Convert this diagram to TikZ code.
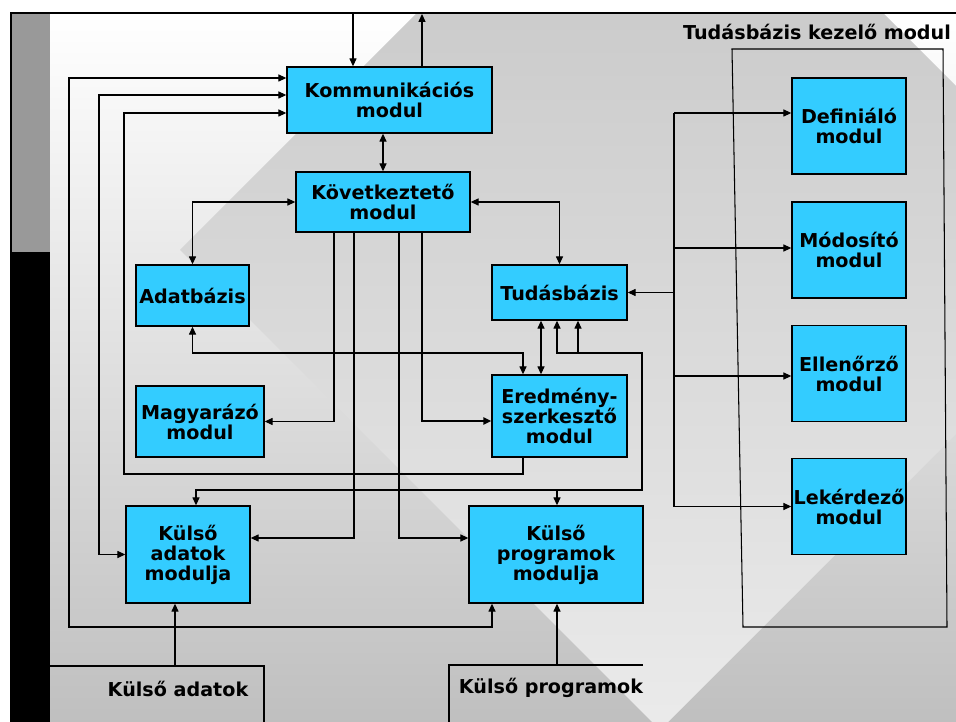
\documentclass[tikz,border=0pt]{standalone}
\usepackage{fontspec}
\setmainfont{DejaVu Sans}
\usetikzlibrary{arrows.meta}
\definecolor{kek}{RGB}{51,204,255}

\begin{document}
\begin{tikzpicture}[x=0.02cm, y=-0.02cm, >={Triangle[length=4.5pt,width=4pt]}]
	\tikzstyle{modul} = [draw, rectangle, fill=kek, line width=0.8pt, inner sep=0.5pt, align=center, font={\fontsize{10.9}{11.4}\selectfont\bfseries}];
	\tikzstyle{felirat} = [font={\fontsize{10.9}{11.4}\selectfont\bfseries}];
	\tikzstyle{vonal} = [line width=0.6pt];
	\tikzstyle{nyil} = [->, line width=0.6pt];
	\tikzstyle{kettos} = [<->, line width=0.6pt];

	\useasboundingbox (0,0) rectangle (956,722);
	\shade[top color=white, bottom color=black!25] (50,14) rectangle (956,722);
	\begin{scope}
		\clip (50,14) rectangle (956,722);
		\shade[top color=black!24, bottom color=black!8] (180,250) -- (650,-220) -- (1130,260) -- (660,730) -- cycle;
	\end{scope}
	\fill[black] (10,12) rectangle (956,14);
	\fill[black] (10,12) rectangle (12,252);
	\fill[black!40] (12,14) rectangle (50,252);
	\fill[black] (10,252) rectangle (50,722);

	\node[modul, minimum width=4.1cm, minimum height=1.32cm] (komm) at (389.5,100) {Kommunikációs\\modul};
	\node[modul, minimum width=3.48cm, minimum height=1.2cm] (kov) at (383,202) {Következtető\\modul};
	\node[modul, minimum width=2.26cm, minimum height=1.22cm] (adat) at (192.5,295.5) {Adatbázis};
	\node[modul, minimum width=2.56cm, minimum height=1.42cm] (magy) at (200,421.5) {Magyarázó\\modul};
	\node[modul, minimum width=2.7cm, minimum height=1.1cm] (tudas) at (559.5,292.5) {Tudásbázis};
	\node[modul, minimum width=2.7cm, minimum height=1.64cm] (ered) at (559.5,416) {Eredmény-\\szerkesztő\\modul};
	\node[modul, minimum width=2.48cm, minimum height=1.94cm] (kadat) at (188,554.5) {Külső\\adatok\\modulja};
	\node[modul, minimum width=3.48cm, minimum height=1.94cm] (kprog) at (556,554.5) {Külső\\programok\\modulja};
	\foreach \n/\y/\t in {def/126/Definiáló, mod/250/Módosító, ell/373.5/Ellenőrző, lek/506.5/Lekérdező}
		\node[modul, minimum width=2.28cm, minimum height=1.92cm] (\n) at (849,\y) {\t\\modul};

	\node[felirat] (kezelo) at (817,32) {Tudásbázis kezelő modul};
	\draw[vonal] (732,49) -- (943,49) -- (947,627) -- (743,627) -- cycle;
	\node[felirat] (kadatforras) at (178,689) {Külső adatok};
	\node[felirat] (kprogforras) at (551,688) {Külső programok};
	\draw[vonal] (50,666) -- (264,666) -- (264,722);
	\draw[vonal] (449,722) -- (449,665) -- (643,665);

	\coordinate (be1) at (175,666);
	\coordinate (be2) at (557,665);
	\coordinate (fent1) at (353,14);
	\coordinate (fent2) at (422,14);
	\coordinate (sin) at (674,0);

	\draw[nyil] (be1) -- (kadat.south -| be1);
	\draw[nyil] (be2) -- (kprog.south -| be2);
	\draw[nyil] (fent1) -- (komm.north -| fent1);
	\draw[nyil] (komm.north -| fent2) -- (fent2);

	\draw[kettos] (komm.south -| kov.north) -- (kov.north);
	\draw[kettos] (komm.west |- 0,78) -| (69,627) -| (kprog.south -| 492,0);
	\draw[kettos] (komm.west |- 0,95) -| (99,554.5) -- (kadat.west);
	\draw[nyil] (ered.south -| 523,0) |- (124,474) |- (komm.west |- 0,113);
	\draw[kettos] (kov.west) -| (adat.north);
	\draw[kettos] (kov.east) -| (tudas.north);
	\draw[nyil] (kov.south -| 334,0) |- (magy.east);
	\draw[nyil] (kov.south -| 354,0) |- (kadat.east |- 0,538);
	\draw[nyil] (kov.south -| 399,0) |- (kprog.west |- 0,538);
	\draw[nyil, line width=1.1pt] (kov.south -| 422,0) |- (ered.west |- 0,421);
	\draw[kettos] (adat.south) |- (523,353) -- (ered.north -| 523,0);
	\draw[kettos] (tudas.south -| 541,0) -- (ered.north -| 541,0);
	\draw[kettos] (tudas.south -| 557,0) |- (642,353) |- (196,490) -- (kadat.north -| 196,0);
	\draw[nyil] (578,353) -- (tudas.south -| 578,0);
	\draw[nyil] (557,490) -- (kprog.north -| 557,0);

	\draw[vonal] (sin |- 0,113) -- (sin |- 0,506.5);
	\draw[nyil] (sin |- tudas.east) -- (tudas.east);
	\foreach \n/\y in {def/113, mod/248, ell/376, lek/506.5}
		\draw[nyil] (sin |- 0,\y) -- (\n.west |- 0,\y);
\end{tikzpicture}
\end{document}
